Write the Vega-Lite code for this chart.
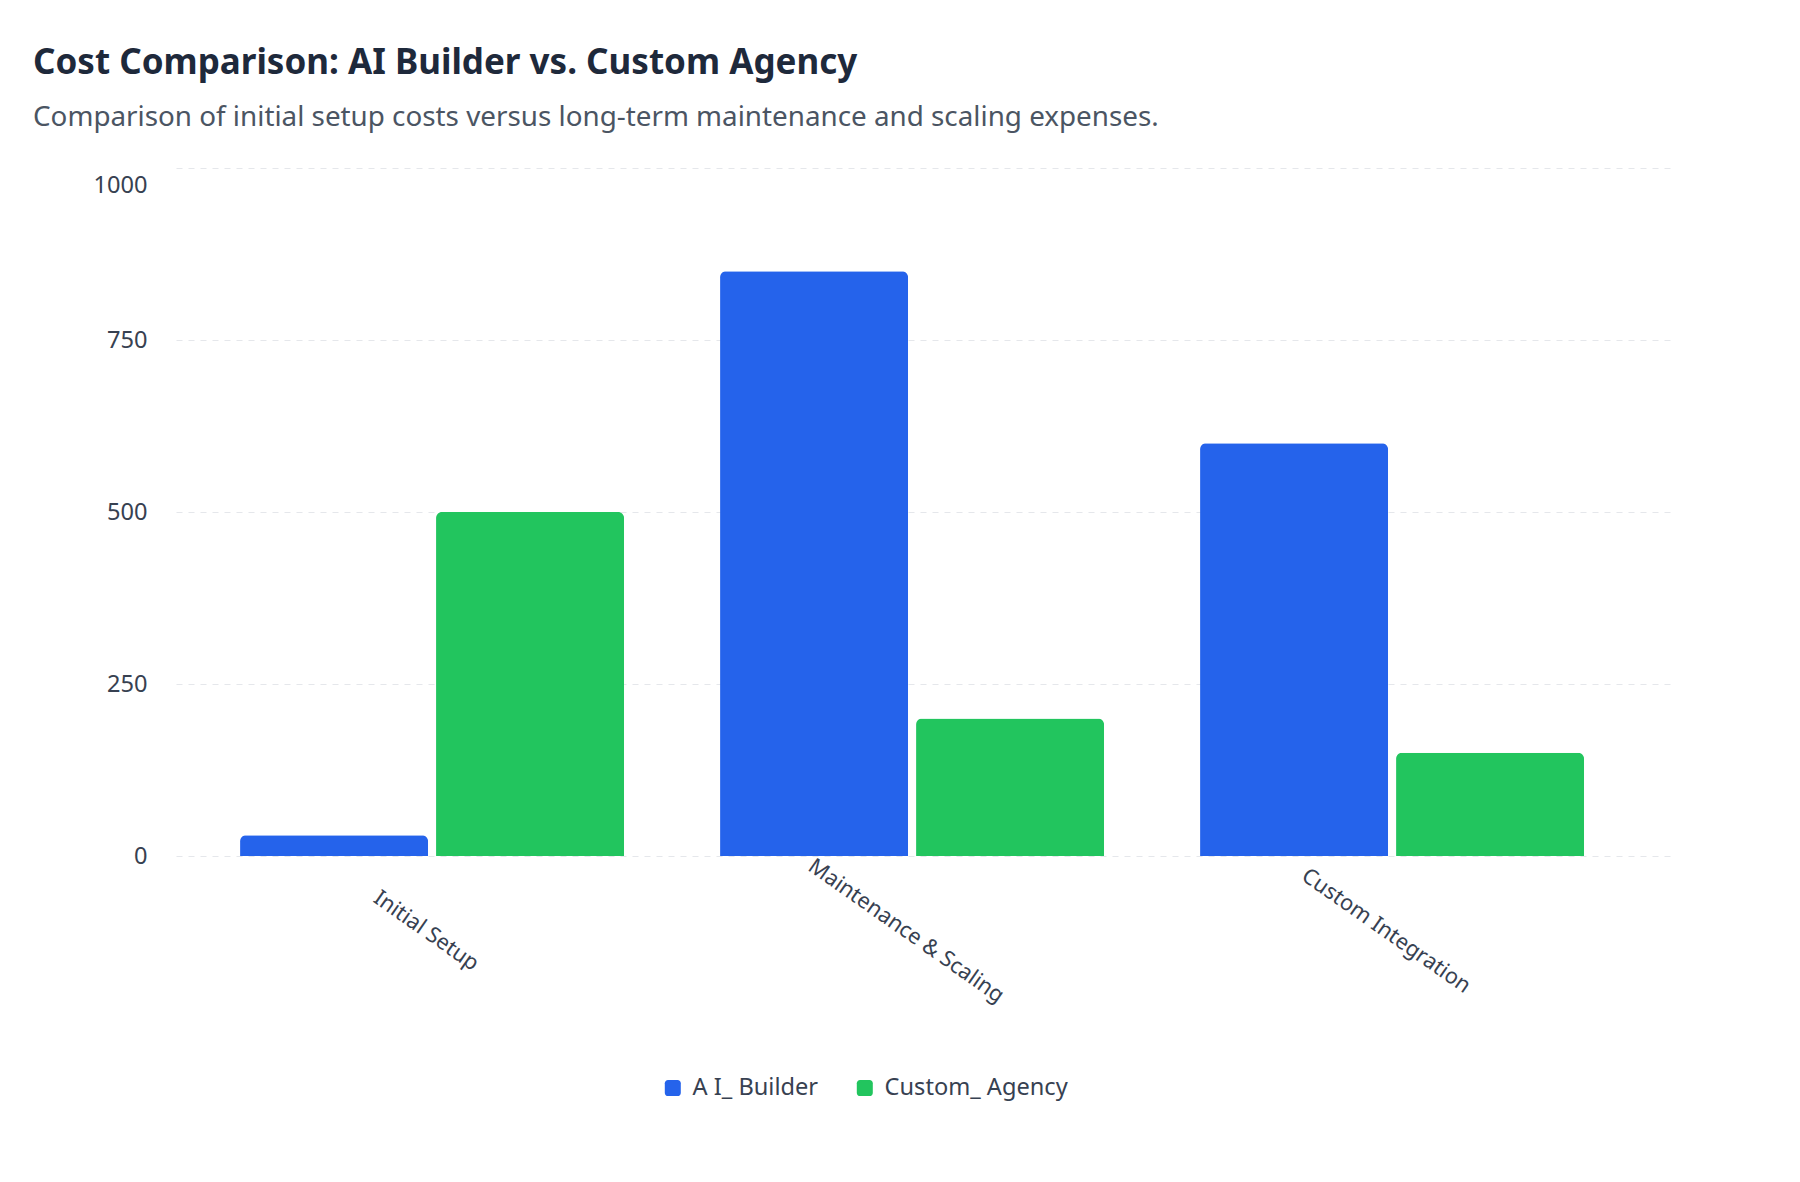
{
  "$schema": "https://vega.github.io/schema/vega-lite/v6.json",
  "width": 1494,
  "height": 688,
  "autosize": {"type": "none"},
  "padding": {"left": 176, "top": 168, "right": 130, "bottom": 326},
  "background": "white",
  "title": {
    "text": "Cost Comparison: AI Builder vs. Custom Agency",
    "subtitle": "Comparison of initial setup costs versus long-term maintenance and scaling expenses.",
    "anchor": "start",
    "frame": "group",
    "dx": -143,
    "offset": 36,
    "font": "Noto Sans",
    "fontSize": 35,
    "fontWeight": 700,
    "color": "#1e293b",
    "subtitleFont": "Noto Sans",
    "subtitleFontSize": 27.8,
    "subtitleColor": "#4b5563",
    "subtitlePadding": 23
  },
  "data": {
    "values": [
      {"category": "Initial Setup", "series": "A I_ Builder", "cost": 30},
      {"category": "Initial Setup", "series": "Custom_ Agency", "cost": 500},
      {"category": "Maintenance & Scaling", "series": "A I_ Builder", "cost": 850},
      {"category": "Maintenance & Scaling", "series": "Custom_ Agency", "cost": 200},
      {"category": "Custom Integration", "series": "A I_ Builder", "cost": 600},
      {"category": "Custom Integration", "series": "Custom_ Agency", "cost": 150}
    ]
  },
  "mark": {"type": "bar", "cornerRadiusTopLeft": 6, "cornerRadiusTopRight": 6},
  "encoding": {
    "x": {
      "field": "category",
      "type": "nominal",
      "sort": ["Initial Setup", "Maintenance & Scaling", "Custom Integration"],
      "scale": {"paddingInner": 0.2, "paddingOuter": 0.15625, "align": 0.427},
      "axis": {
        "title": null,
        "domain": false,
        "ticks": false,
        "grid": false,
        "labelAngle": 35,
        "labelAlign": "center",
        "labelBaseline": "top",
        "labelPadding": 66,
        "labelLimit": 0,
        "labelFont": "Noto Sans",
        "labelFontSize": 21.8,
        "labelColor": "#374151"
      }
    },
    "xOffset": {
      "field": "series",
      "type": "nominal",
      "sort": ["A I_ Builder", "Custom_ Agency"],
      "scale": {"paddingInner": 0.0408, "paddingOuter": 0}
    },
    "y": {
      "field": "cost",
      "type": "quantitative",
      "scale": {"domain": [0, 1000], "nice": false},
      "axis": {
        "title": null,
        "values": [0, 250, 500, 750, 1000],
        "format": "d",
        "domain": false,
        "ticks": false,
        "grid": true,
        "gridColor": "#e5e7eb",
        "gridDash": [6, 6],
        "gridWidth": 1,
        "labelPadding": 29,
        "labelFont": "Noto Sans",
        "labelFontSize": 23.6,
        "labelColor": "#374151",
        "labelOffset": {"condition": {"test": "datum.value == 1000", "value": 17}, "value": 0}
      }
    },
    "color": {
      "field": "series",
      "type": "nominal",
      "scale": {"domain": ["A I_ Builder", "Custom_ Agency"], "range": ["#2563eb", "#22c55e"]},
      "legend": {
        "title": null,
        "orient": "none",
        "direction": "horizontal",
        "legendX": 485,
        "legendY": 908,
        "symbolType": "M-1,-0.6 A0.4,0.4 0 0 1 -0.6,-1 L0.6,-1 A0.4,0.4 0 0 1 1,-0.6 L1,0.6 A0.4,0.4 0 0 1 0.6,1 L-0.6,1 A0.4,0.4 0 0 1 -1,0.6 Z",
        "symbolSize": 256,
        "symbolStrokeWidth": 0,
        "symbolOpacity": 1,
        "labelFont": "Noto Sans",
        "labelFontSize": 23.6,
        "labelColor": "#374151",
        "labelLimit": 0,
        "labelOffset": 8,
        "columnPadding": 34
      }
    }
  },
  "config": {"view": {"stroke": null}}
}
